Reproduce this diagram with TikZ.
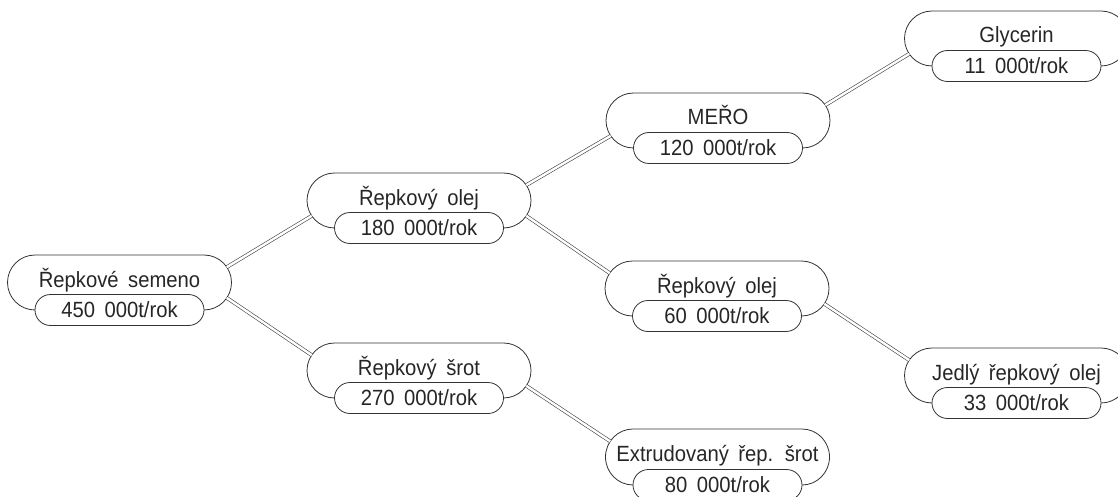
\documentclass[tikz,border=0pt]{standalone}
\usepackage{fontspec}
\setmainfont{Liberation Sans}[WordSpace=1.7,FakeStretch=0.92]
\begin{document}
\begin{tikzpicture}[x=1pt,y=1pt,
  outline/.style={draw=black!80,line width=0.8pt},
  link/.style={draw=black!75,line width=0.6pt,double=white,double distance=2.4pt},
  lbl/.style={inner sep=0pt,anchor=base,text=black!85,font=\fontsize{22}{26}\selectfont},
  pics/prod/.style n args={3}{code={
    \pgfmathsetmacro\ry{(55+#3)/2}
    \draw[outline] (-84.5,0) arc[start angle=270,end angle=90,x radius=27.5,y radius=\ry]
      -- (84.5,55+#3) arc[start angle=90,end angle=-90,x radius=27.5,y radius=\ry];
    \draw[outline,fill=white] (-69,-15.5) -- (69,-15.5) arc[start angle=-90,end angle=90,radius=15.5]
      -- (-69,15.5) arc[start angle=90,end angle=270,radius=15.5] -- cycle;
    \node[lbl] (-title) at (0,23+#3) {#1};
    \node[lbl] (-qty) at (0,-7.5) {#2};
    \coordinate (-ru) at (107.3,{\ry*1.559});
    \coordinate (-rl) at (107.3,{\ry*0.441});
    \coordinate (-lu) at (-107.3,{\ry*1.559});
    \coordinate (-ll) at (-107.3,{\ry*0.441});
  }}]
\useasboundingbox (0,0) rectangle (1118,-497);
\pic (A) at (119.5,-310) {prod={Řepkové semeno}{450 000t/rok}{0}};
\pic (B) at (419,-228) {prod={Řepkový olej}{180 000t/rok}{0}};
\pic (G) at (419,-398) {prod={Řepkový šrot}{270 000t/rok}{0}};
\pic (C) at (718,-148) {prod={MEŘO}{120 000t/rok}{0}};
\pic (D) at (717,-316) {prod={Řepkový olej}{60 000t/rok}{0}};
\pic (H) at (717.5,-485) {prod={Extrudovaný řep. šrot}{80 000t/rok}{1}};
\pic (E) at (1016.5,-66) {prod={Glycerin}{11 000t/rok}{0}};
\pic (F) at (1016.5,-403) {prod={Jedlý řepkový olej}{33 000t/rok}{0}};
\draw[link] (A-ru) -- (B-ll);
\draw[link] (A-rl) -- (G-lu);
\draw[link] (B-ru) -- (C-ll);
\draw[link] (B-rl) -- (D-lu);
\draw[link] (C-ru) -- (E-ll);
\draw[link] (D-rl) -- (F-lu);
\draw[link] (G-rl) -- (H-lu);
\end{tikzpicture}
\end{document}
